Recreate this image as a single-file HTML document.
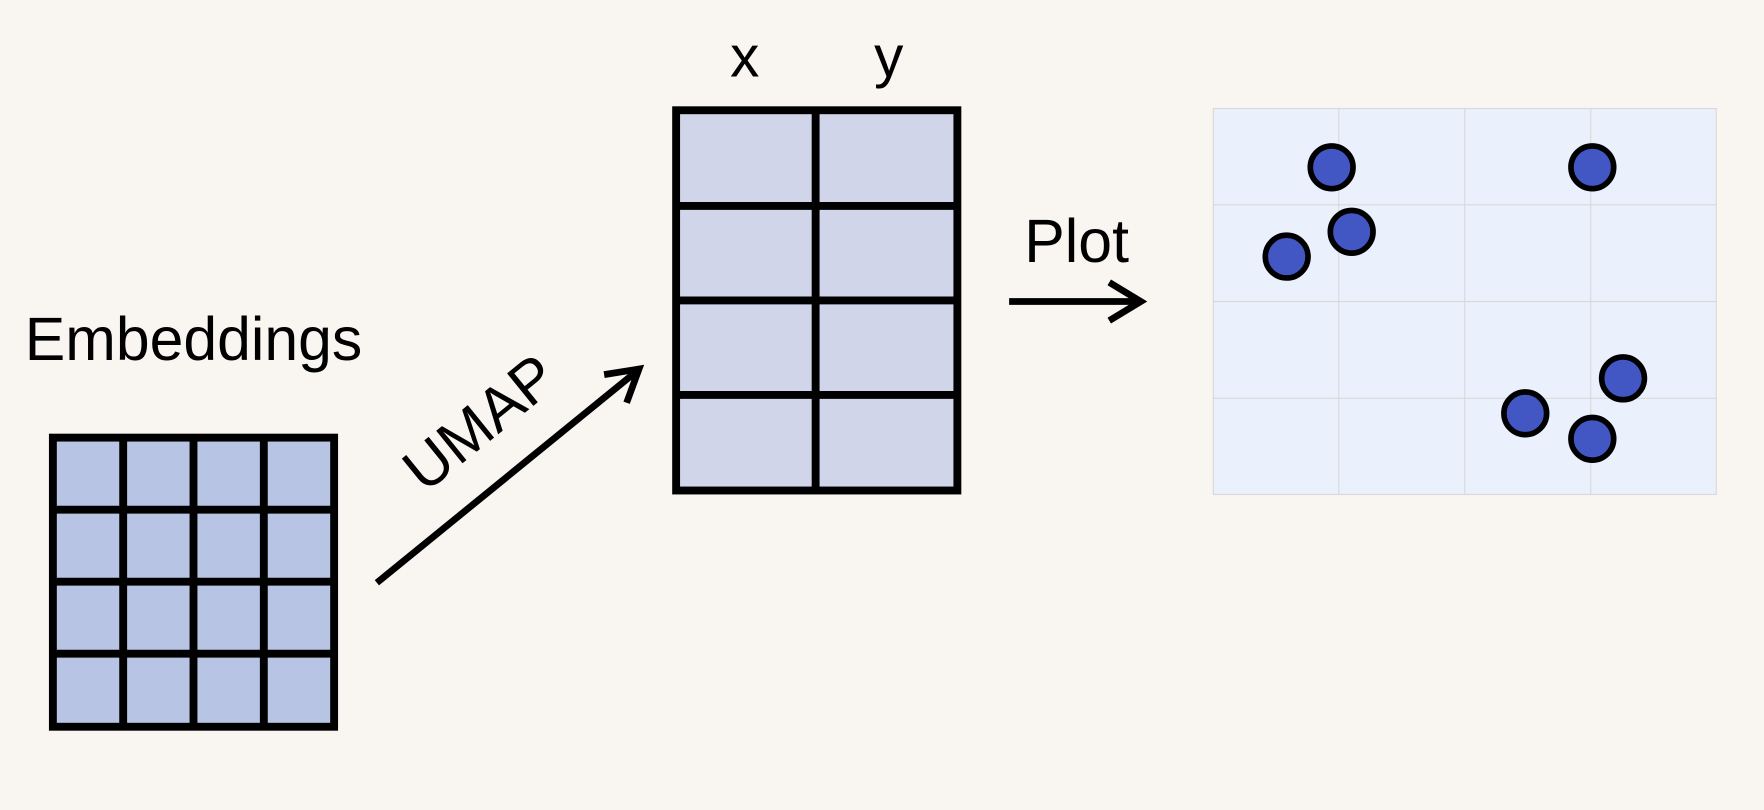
<!DOCTYPE html>
<html><head><style>html,body{margin:0;padding:0;background:#f9f5f1;}svg{display:block}</style></head>
<body>
<svg width="1764" height="810" viewBox="0 0 1568 720" xmlns="http://www.w3.org/2000/svg" font-family="Liberation Sans, Arial, sans-serif">
<rect width="1568" height="720" fill="#f9f5f1"/>
<text x="22" y="320" font-size="54" textLength="300" lengthAdjust="spacingAndGlyphs">Embeddings</text>
<rect x="47" y="389" width="250" height="257" fill="#b8c4e4" stroke="#000" stroke-width="7"/>
<g stroke="#000" stroke-width="7">
<line x1="109.5" y1="389" x2="109.5" y2="646"/><line x1="172" y1="389" x2="172" y2="646"/><line x1="234.5" y1="389" x2="234.5" y2="646"/>
<line x1="47" y1="453" x2="297" y2="453"/><line x1="47" y1="517" x2="297" y2="517"/><line x1="47" y1="581" x2="297" y2="581"/>
</g>
<line x1="335" y1="518" x2="566" y2="330" stroke="#000" stroke-width="6"/>
<polyline points="537,333 568,328 557,358" fill="none" stroke="#000" stroke-width="6"/>
<text transform="translate(438,390) rotate(-39)" font-size="54" text-anchor="middle">UMAP</text>
<text x="662" y="68" font-size="52" text-anchor="middle">x</text>
<text x="790" y="68" font-size="52" text-anchor="middle">y</text>
<rect x="601" y="98" width="250" height="338" fill="#d0d5ea" stroke="#000" stroke-width="7"/>
<g stroke="#000" stroke-width="7">
<line x1="725" y1="98" x2="725" y2="436"/>
<line x1="601" y1="183" x2="851" y2="183"/><line x1="601" y1="267" x2="851" y2="267"/><line x1="601" y1="351" x2="851" y2="351"/>
</g>
<text x="957" y="233" font-size="54" text-anchor="middle">Plot</text>
<line x1="897" y1="268" x2="1013" y2="268" stroke="#000" stroke-width="6"/>
<polyline points="986,251 1014,268 986,285" fill="none" stroke="#000" stroke-width="6"/>
<rect x="1078.5" y="96.5" width="447" height="343" fill="#eaf1fd" stroke="#d8d8d8" stroke-width="1"/>
<g stroke="#d8d8d8" stroke-width="1">
<line x1="1190" y1="96" x2="1190" y2="440"/><line x1="1302" y1="96" x2="1302" y2="440"/><line x1="1414" y1="96" x2="1414" y2="440"/>
<line x1="1078" y1="182" x2="1526" y2="182"/><line x1="1078" y1="268" x2="1526" y2="268"/><line x1="1078" y1="354" x2="1526" y2="354"/>
</g>
<g fill="#4257c4" stroke="#000" stroke-width="5">
<circle cx="1183.7" cy="148.7" r="19"/>
<circle cx="1415.4" cy="148.7" r="19"/>
<circle cx="1201.5" cy="206" r="19"/>
<circle cx="1143.7" cy="228.1" r="19"/>
<circle cx="1442.7" cy="336.3" r="19"/>
<circle cx="1355.8" cy="367.4" r="19"/>
<circle cx="1415.4" cy="390" r="19"/>
</g>
</svg>
</body></html>
